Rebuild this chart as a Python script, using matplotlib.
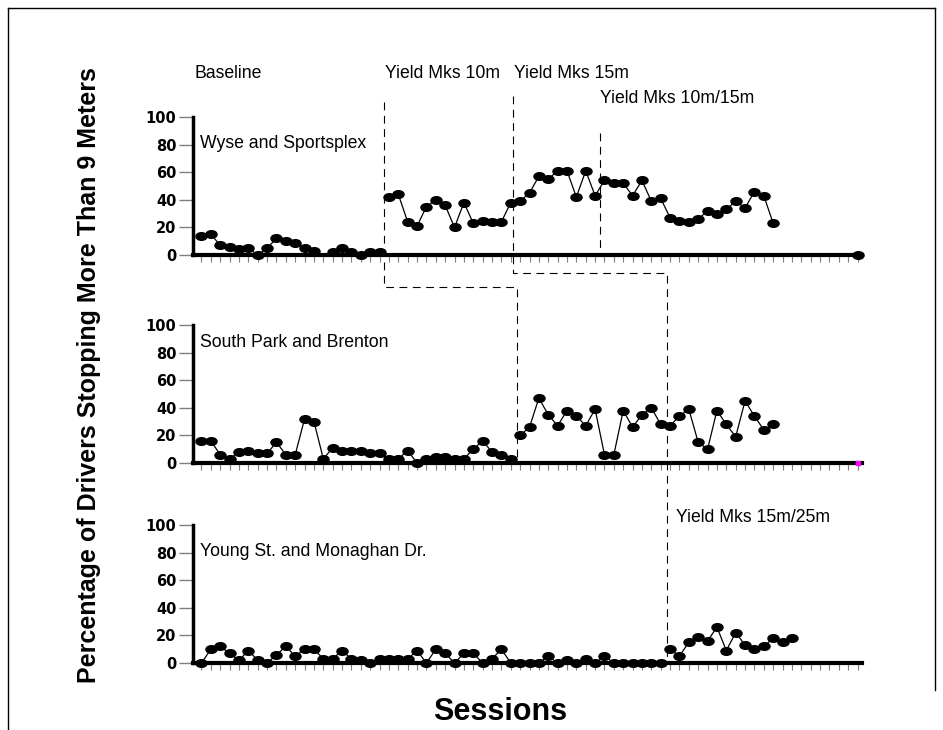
import matplotlib.pyplot as plt
import numpy as np
from matplotlib.path import Path
from matplotlib.transforms import Affine2D, blended_transform_factory
from matplotlib.lines import Line2D

nan = np.nan

# percentage of drivers stopping more than 9 m, per session
wyse = [14, 15, 7, 6, 4, 5, 0, 5, 12, 10, 9, 5, 3, nan, 2, 5, 2, 0, 2, 2,
        42, 44, 24, 21, 35, 40, 36, 20, 38, 23, 25, 24, 24,
        38, 39, 45, 57, 55, 61, 61, 42, 61, 43,
        54, 52, 52, 43, 54, 39, 41, 27, 25, 24, 26, 32, 30, 33, 39, 34, 46, 43, 23,
        nan, nan, nan, nan, nan, nan, nan, nan, 0]
south = [16, 16, 6, 3, 8, 9, 7, 7, 15, 6, 6, 32, 30, 3, 11, 9, 9, 9, 7, 7,
         3, 3, 9, 0, 3, 4, 4, 3, 3, 10, 16, 8, 6, 3,
         20, 26, 47, 35, 27, 38, 34, 27, 39, 6, 6, 38, 26, 35, 40, 28,
         27, 34, 39, 15, 10, 38, 28, 19, 45, 34, 24, 28]
young = [0, 10, 12, 7, 2, 9, 2, 0, 6, 12, 5, 10, 10, 3, 3, 9, 3, 2, 0, 3,
         3, 3, 3, 9, 0, 10, 7, 0, 7, 7, 0, 3, 10, 0, 0, 0, 0, 5, 0, 2,
         0, 3, 0, 5, 0, 0, 0, 0, 0, 0,
         10, 5, 15, 19, 16, 26, 9, 22, 13, 10, 12, 18, 15, 18]

site_names = ["Wyse and Sportsplex", "South Park and Brenton", "Young St. and Monaghan Dr."]
series = [wyse, south, young]
baseline_len = [20, 34, 50]     # first intervention session per site
n_sessions = 71

W, H = 943, 730
fig = plt.figure(figsize=(W / 100, H / 100), dpi=100)
font = "Liberation Sans"

oval = Path.unit_circle().transformed(Affine2D().scale(1.45, 1.0))

# panel rows in pixels: (y of 100, y of 0)
rows = [(117, 255), (325, 463), (525, 663)]
x_left, x_right = 193, 862
axes = []
for (ytop, ybot), vals, name, nb in zip(rows, series, site_names, baseline_len):
    ax = fig.add_axes([x_left / W, 1 - ybot / H, (x_right - x_left) / W, (ybot - ytop) / H])
    ax.set_xlim(-0.907, 70.48)
    ax.set_ylim(0, 100)
    for s in ["top", "right"]:
        ax.spines[s].set_visible(False)
    ax.spines["left"].set_linewidth(2.5)
    ax.spines["bottom"].set_linewidth(3.0)
    ax.set_yticks(range(0, 101, 20))
    ax.set_yticklabels([str(v) for v in range(0, 101, 20)], fontsize=10.5,
                       fontweight="bold", family="DejaVu Sans")
    ax.tick_params(axis="y", length=10, width=1, color="#7f7f7f", pad=2)
    ax.set_xticks(np.arange(n_sessions))
    ax.set_xticklabels([])
    ax.tick_params(axis="x", length=5, width=0.8, color="#7f7f7f")

    v = np.array(vals, dtype=float)
    x = np.arange(len(v))
    for a, b in [(0, nb), (nb, len(v))]:
        ax.plot(x[a:b], v[a:b], color="k", lw=0.9, zorder=2, clip_on=False)
    ax.plot(x, v, ls="none", marker=oval, ms=8, color="k", zorder=3, clip_on=False)
    ax.text(0.01, 0.0, name, transform=ax.transAxes, fontsize=12.7, family=font)
    axes.append(ax)

# panel name placement (baseline in pixels)
for ax, (ytop, ybot), yb in zip(axes, rows, [148, 347, 556]):
    ax.texts[0].set_position(((200 - x_left) / (x_right - x_left), (ybot - yb) / (ybot - ytop)))

# stray magenta dot at the end of the middle axis
axes[1].plot([70], [0], ls="none", marker="s", ms=2.5, color="#ff00ff", clip_on=False, zorder=4)

# phase change lines (x in sessions, y in figure pixels)
tr = blended_transform_factory(axes[0].transData, fig.transFigure)
dash = dict(color="k", lw=0.8, linestyle=(0, (7, 5)))
phase_paths = [
    ([19.5, 19.5, 33.7, 33.7], [102, 287, 287, 463]),
    ([33.2, 33.2, 49.7, 49.7], [96, 273, 273, 663]),
    ([42.5, 42.5], [133, 252]),
]
for xs, ys in phase_paths:
    fig.add_artist(Line2D(xs, [1 - y / H for y in ys], transform=tr, **dash))

labels = [("Baseline", 195, 78), ("Yield Mks 10m", 385, 78), ("Yield Mks 15m", 514, 78),
          ("Yield Mks 10m/15m", 600, 103), ("Yield Mks 15m/25m", 676, 522)]
for t, lx, ly in labels:
    fig.text(lx / W, 1 - ly / H, t, fontsize=12.7, family=font, va="baseline")

fig.text(89 / W, 1 - 375 / H, "Percentage of Drivers Stopping More Than 9 Meters",
         rotation=90, ha="center", va="center", fontsize=18, fontweight="bold", family=font)
fig.text(500 / W, 1 - 712 / H, "Sessions", ha="center", va="center",
         fontsize=22, fontweight="bold", family=font)

# outer frame
frame = dict(color="k", lw=1.0)
fig.add_artist(Line2D([8 / W, 8 / W], [0, 1 - 8 / H], **frame))
fig.add_artist(Line2D([8 / W, 935 / W], [1 - 8 / H, 1 - 8 / H], **frame))
fig.add_artist(Line2D([935 / W, 935 / W], [1 - 8 / H, 1 - 690 / H], **frame))

fig.savefig("out.png", dpi=100)
